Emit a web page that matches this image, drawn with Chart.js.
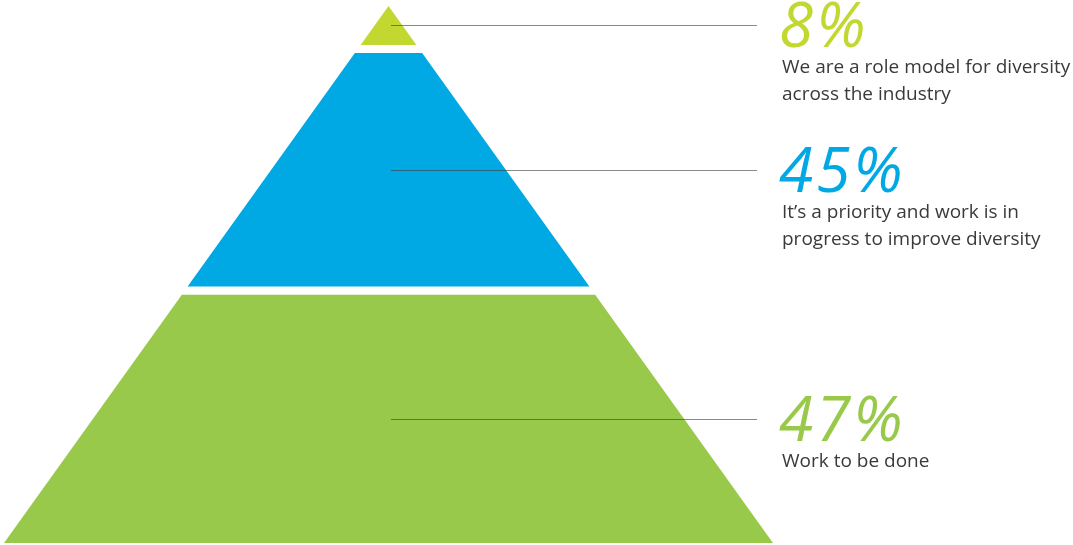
<!DOCTYPE html>
<html>
<head>
<meta charset="utf-8">
<script src="https://cdn.jsdelivr.net/npm/chart.js@4/dist/chart.umd.min.js"></script>
<style>
  html, body { margin: 0; padding: 0; background: #ffffff; }
  #wrap { width: 1073px; height: 545px; position: relative; }
</style>
</head>
<body>
<div id="wrap"><canvas id="pyramid"></canvas></div>
<script>
// Survey answers, listed from the top of the pyramid to its base
const categories = [
  'We are a role model for diversity across the industry',
  'It\u2019s a priority and work is in progress to improve diversity',
  'Work to be done'
];
const shares = [8, 45, 47];
const descriptionLines = [
  ['We are a role model for diversity', 'across the industry'],
  ['It\u2019s a priority and work is in', 'progress to improve diversity'],
  ['Work to be done']
];
const tierColors = ['#c2d831', '#00a9e4', '#99c94a'];

// Layout of the pyramid on the canvas
const W = 1073, H = 545;
const APEX_X = 388.5;      // px
const HALF_BASE = 384.5;   // px
const GAP = 1.5;           // white gap between tiers, in % of height
const LEADER_END = (757 - APEX_X) / HALF_BASE;
const LEADER_START = (391 - APEX_X) / HALF_BASE;
const TEXT_X = (782 - APEX_X) / HALF_BASE;

// Half-width of the pyramid at a given depth (0 = apex, 100 = base)
const halfWidth = d => d / 100;

// Build one closed polygon per tier from the cumulative shares
const tiers = [];
let acc = 0;
shares.forEach((v, i) => {
  const top = acc + (i > 0 ? GAP / 2 : 0);
  const bottom = acc + v - (i < shares.length - 1 ? GAP / 2 : 0);
  tiers.push({
    top, bottom, mid: (top + bottom) / 2,
    points: [
      { x: -halfWidth(top), y: top },
      { x: halfWidth(top), y: top },
      { x: halfWidth(bottom), y: bottom },
      { x: -halfWidth(bottom), y: bottom },
      { x: -halfWidth(top), y: top }
    ]
  });
  acc += v;
});

// Leader lines and the percentage / description text beside each tier
const calloutPlugin = {
  id: 'callouts',
  afterDatasetsDraw(chart) {
    const { ctx, scales: { x, y } } = chart;
    ctx.save();
    tiers.forEach((t, i) => {
      const ly = Math.round(y.getPixelForValue(t.mid)) + 0.5;
      ctx.beginPath();
      ctx.moveTo(x.getPixelForValue(LEADER_START), ly);
      ctx.lineTo(x.getPixelForValue(LEADER_END), ly);
      ctx.lineWidth = 1.2;
      ctx.strokeStyle = 'rgba(60,60,60,0.6)';
      ctx.stroke();

      const tx = x.getPixelForValue(TEXT_X);
      ctx.textAlign = 'left';
      ctx.textBaseline = 'alphabetic';
      ctx.fillStyle = tierColors[i];
      ctx.font = 'italic 400 62px "Open Sans", "DejaVu Sans", sans-serif';
      if ('letterSpacing' in ctx) ctx.letterSpacing = '3px';
      ctx.fillText(shares[i] + '%', tx - 3, ly + 21);
      if ('letterSpacing' in ctx) ctx.letterSpacing = '0px';

      ctx.fillStyle = '#3a3a3a';
      ctx.font = '19px "Open Sans", "DejaVu Sans", sans-serif';
      descriptionLines[i].forEach((line, k) => {
        ctx.fillText(line, tx, ly + 47 + k * 27);
      });
    });
    ctx.restore();
  }
};

new Chart(document.getElementById('pyramid'), {
  type: 'line',
  data: {
    datasets: tiers.map((t, i) => ({
      label: categories[i],
      data: t.points,
      backgroundColor: tierColors[i],
      borderColor: tierColors[i],
      borderWidth: 0,
      pointRadius: 0,
      tension: 0,
      fill: 'shape'
    }))
  },
  options: {
    responsive: true,
    maintainAspectRatio: false,
    animation: false,
    events: [],
    layout: { padding: { top: 6, bottom: 2, left: 0, right: 0 } },
    plugins: { legend: { display: false }, tooltip: { enabled: false } },
    scales: {
      x: { type: 'linear', display: false, min: -APEX_X / HALF_BASE, max: (W - APEX_X) / HALF_BASE },
      y: { type: 'linear', display: false, min: 0, max: 100, reverse: true }
    }
  },
  plugins: [calloutPlugin]
});
</script>
</body>
</html>
